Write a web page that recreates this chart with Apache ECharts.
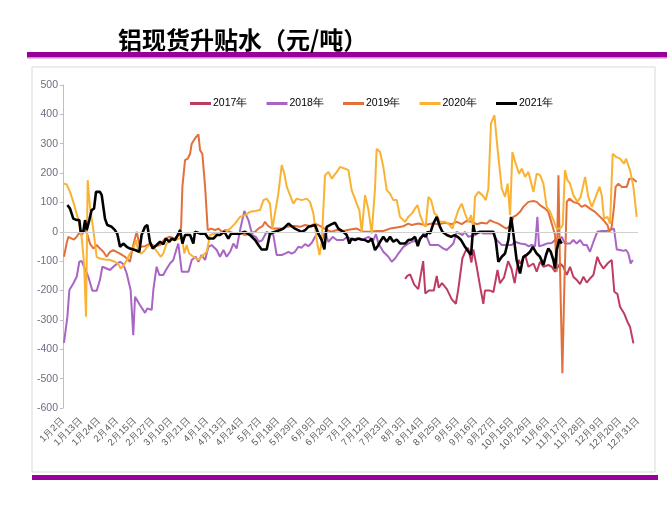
<!DOCTYPE html>
<html><head><meta charset="utf-8">
<script src="https://cdn.jsdelivr.net/npm/echarts@6/dist/echarts.min.js"></script>
<style>html,body{margin:0;padding:0;background:#fff}#c{width:667px;height:518px}</style>
</head><body><div id="c"></div>
<script>
const years = ['2017年','2018年','2019年','2020年','2021年'];
const tickLabels = ['1月2日','1月13日','1月24日','2月4日','2月15日','2月27日','3月10日','3月21日','4月1日','4月13日','4月24日','5月7日','5月18日','5月29日','6月9日','6月20日','7月1日','7月12日','7月23日','8月3日','8月14日','8月25日','9月5日','9月16日','9月27日','10月15日','10月26日','11月6日','11月17日','11月28日','12月9日','12月20日','12月31日'];
// [day index, value]
const s2017 = [[209.4,-160],[210.8,-150],[212.5,-145],[215,-180],[217.5,-195],[220.5,-100],[221.8,-210],[224,-200],[227,-200],[228.8,-150],[230,-190],[232,-175],[235,-195],[238,-230],[240.5,-245],[242,-195],[244.5,-90],[246.5,-65],[248,-55],[250,-105],[251.2,-60],[253.3,-120],[255.3,-185],[257.3,-245],[258.3,-200],[261.4,-200],[263.5,-205],[266,-130],[267.5,-175],[270,-155],[272.5,-100],[274.5,-125],[276.5,-175],[278.8,-95],[280,-108],[282.9,-79],[284.9,-119],[288,-108],[290,-136],[292,-102],[294.1,-119],[297.1,-113],[299.2,-119],[301.2,-136],[304.3,-108],[306.3,-119],[308.4,-147],[310.4,-119],[312.4,-153],[314.5,-164],[316.5,-178],[318.6,-153],[320.6,-173],[322.6,-159],[324.7,-147],[327.1,-85],[328.8,-108],[330.8,-125],[333.3,-108],[335.9,-96],[337.5,-204],[339.4,-212],[341,-255],[343.5,-278],[345.5,-306],[347.1,-323],[349.2,-380]];
const s2018 = [[0.6,-378],[2.7,-289],[3.9,-198],[6.3,-176],[8.4,-153],[10,-102],[11.4,-99],[12.9,-119],[15.5,-153],[18,-201],[20.6,-201],[22.6,-164],[24.1,-119],[26.7,-125],[28.8,-130],[30.8,-119],[32.8,-110],[34.9,-102],[36.9,-110],[39,-142],[41.4,-198],[43,-352],[44.1,-221],[47.1,-249],[50.2,-276],[51.6,-261],[54.3,-266],[55.3,-198],[57.3,-119],[59,-147],[61.4,-147],[63,-130],[65.5,-108],[67.5,-96],[69.6,-57],[70.6,-40],[72.7,-136],[76.8,-136],[78.8,-96],[81.2,-85],[82.9,-102],[84.9,-79],[87,-96],[89,-51],[91,-45],[94.1,-62],[96.1,-85],[98.2,-62],[100.2,-85],[102.3,-68],[104.3,-40],[106.3,-57],[108.4,6],[111,71],[113.5,40],[115.9,-11],[118,-17],[120,-34],[122,-28],[124.7,0],[126.7,-6],[128.8,-11],[130.8,-79],[133.9,-79],[135.9,-74],[138,-68],[140,-74],[142,-68],[144.1,-51],[146.1,-54],[148.2,-42],[150.2,-49],[152.3,-37],[154.3,-17],[156.3,0],[158.4,-34],[160.4,0],[162.5,-34],[165.1,-17],[167.6,-28],[171.6,-28],[174.1,-17],[176.7,-28],[179.8,-23],[182.9,-28],[187,-17],[190,-28],[191.6,-8],[193.1,-40],[196.1,-68],[199.2,-85],[201.2,-102],[203.3,-91],[205.3,-74],[208.4,-51],[211.4,-40],[213.5,-34],[215.5,-31],[218.6,-28],[220.6,-6],[222.7,-17],[224.7,-45],[229.8,-45],[232.9,-57],[234.9,-62],[237,-51],[239,-40],[241,0],[243,-6],[244.5,-11],[246,0],[248.2,-17],[252.2,-11],[255.3,0],[257.3,-6],[260.4,-6],[263.5,-6],[265.5,-28],[268.6,-45],[271.6,-45],[274.7,-45],[276.7,-34],[279.8,-40],[282.9,-42],[284.9,-49],[287,-45],[289,-49],[290.4,51],[291.4,-49],[294.1,-45],[296.1,-40],[299.2,-38],[301.2,-28],[303.3,-34],[305.3,-17],[307.3,-40],[310.4,-40],[312.4,-28],[314.5,-40],[316.5,-28],[318.6,-45],[320.6,-45],[322.6,-68],[325.1,-28],[327.1,0],[329.8,3],[332.8,3],[334.9,6],[337.3,11],[339,-60],[341,-62],[343,-65],[344.7,-62],[346.1,-74],[347.5,-108],[348.8,-96]];
const s2019 = [[0.6,-85],[2.2,-40],[3.3,-17],[5.3,-23],[6.7,-26],[8.4,-17],[10,-3],[11.4,-11],[13.5,6],[15,-11],[16.5,-40],[18.6,-57],[20.6,-45],[22.6,-57],[24.7,-68],[26.7,-85],[28.8,-68],[30.8,-62],[32.8,-68],[34.9,-74],[37.9,-85],[41,-102],[43,-45],[45.1,0],[47.1,-51],[50.2,-49],[53.2,-40],[56.3,-49],[59.4,-45],[62.4,-23],[65.5,-17],[68.5,-23],[71.2,-11],[72.3,17],[73.1,153],[74.7,244],[76.4,249],[77.8,266],[78.8,300],[80.8,318],[82.9,332],[83.9,278],[85.3,266],[87,153],[88.6,6],[90.6,11],[93.1,6],[95.1,11],[97.2,0],[99.2,6],[102.3,0],[105.3,-6],[108.4,-3],[111.4,-11],[114.5,-6],[117.6,0],[119.6,11],[122.1,19],[123.7,34],[125.7,19],[128.2,11],[130.8,11],[133.9,11],[137,17],[140,19],[142,20],[145.1,17],[148.2,23],[151.2,20],[154.3,28],[156.3,23],[158.4,17],[161.4,6],[164.5,0],[167.6,6],[171.6,3],[175.7,8],[179.8,11],[183.9,0],[188,0],[192,3],[196.1,3],[200.2,11],[204.3,15],[208.4,19],[211.4,28],[213.5,23],[217.6,28],[221.6,23],[225.7,28],[229.8,26],[233.9,31],[238,26],[241,34],[244.1,26],[247.1,37],[250.2,34],[253.3,26],[256.3,31],[259.4,28],[261.4,40],[263.5,34],[266.5,28],[269.6,17],[271.6,11],[274.3,23],[275.7,51],[277.7,57],[279.8,68],[281.8,85],[284.9,102],[288,105],[290,102],[292,91],[295.1,79],[297.1,68],[299.2,28],[301.2,-11],[302.2,-136],[303.3,193],[304.3,-136],[305.7,-482],[307,-164],[308.4,102],[310,113],[312.4,102],[315.5,96],[317.5,85],[319.6,91],[322.6,79],[325.7,68],[328.8,51],[330.8,40],[333.3,23],[334.5,0],[335.9,17],[337.3,85],[338.3,153],[340,164],[342,153],[345.1,153],[346.7,181],[348.8,181],[351.2,170]];
const s2020 = [[0.6,164],[2.2,162],[4.3,136],[6.3,102],[7.3,96],[9.4,40],[11.4,-17],[12.9,-108],[14.1,-289],[15.1,176],[16.5,85],[18.6,6],[20.6,-85],[22.6,-91],[25.7,-94],[28.8,-96],[31.8,-102],[33.9,-110],[35.3,-125],[37.3,-113],[39,-96],[41,-74],[43,-57],[44.7,-28],[46.1,-68],[48.1,-74],[50.2,-62],[51.6,-51],[53.2,-45],[55.3,-51],[57.7,-68],[59.8,-85],[61.4,-74],[63.4,-40],[66.5,-28],[68.5,-28],[71.2,-23],[72.7,-17],[74.3,-74],[75.7,-45],[77.2,-74],[79.8,-85],[82.9,-96],[84.9,-85],[88,-68],[90,-11],[93.1,-6],[96.1,-11],[99.2,0],[102.3,11],[105.3,28],[108.4,51],[111.4,57],[114.5,68],[117.6,71],[120.6,74],[122.7,108],[124.7,113],[126.7,96],[128.2,11],[129.4,6],[131.8,130],[133.9,227],[135.5,198],[137,153],[139,125],[141,96],[143.1,113],[146.1,108],[149.2,113],[151.2,102],[153.3,62],[155.3,-28],[157,-79],[158.4,-34],[160.4,193],[162.5,204],[164.5,181],[167.6,204],[169.6,221],[172.7,215],[174.7,210],[176.7,142],[179.8,96],[181.4,74],[182.9,0],[184.9,125],[187,74],[189,-6],[191,147],[192,283],[194.1,272],[196.1,221],[198.2,142],[200.2,130],[202.2,108],[204.3,108],[206.3,51],[209.4,34],[211.4,51],[213.5,62],[215.5,79],[217,91],[218.6,57],[220.6,28],[222,17],[223.7,119],[225.3,108],[227.4,62],[228.8,57],[230.8,34],[233.9,34],[235.9,28],[238.4,11],[240,40],[242,74],[244.1,96],[246.1,62],[248.2,34],[249.8,57],[251.2,11],[252.2,119],[254.3,136],[256.7,125],[258.8,108],[260.4,147],[262,369],[264.1,397],[266.1,278],[268.6,147],[270.6,119],[272.2,164],[273.7,57],[275.1,272],[277.1,232],[279.2,198],[280.8,215],[282.9,187],[284.9,204],[288,136],[290,198],[292,193],[294.1,164],[296.1,85],[298.2,68],[300.2,40],[302.2,11],[304.3,11],[305.9,23],[307.3,210],[308.8,176],[310.4,164],[312.4,125],[314.9,102],[316.9,119],[319.6,187],[321.6,119],[323.7,85],[325.7,113],[328.4,153],[329.8,125],[331.2,45],[333.3,51],[334.9,28],[336.5,266],[338.6,255],[341,249],[343.5,232],[344.7,249],[347.1,210],[349.2,153],[351.2,51]];
const s2021 = [[2.7,91],[4.3,79],[5.3,85],[6.3,45],[8.4,40],[10,40],[10.8,0],[12.4,0],[13.5,40],[14.5,6],[16.1,40],[17.5,74],[19,79],[20.2,136],[22.6,136],[23.7,125],[25.7,45],[27.1,23],[29.8,17],[31.8,6],[33.3,-8],[34.9,-51],[36.9,-40],[39,-51],[41,-57],[44.1,-62],[46.7,-68],[48.1,-11],[50.2,17],[51.6,23],[53.2,-34],[54.9,-57],[57.3,-45],[59.4,-34],[61.4,-42],[63,-23],[65.1,-34],[66.5,-23],[68.5,-28],[70.2,-11],[71.7,6],[73.1,-40],[74.7,-11],[77.8,-11],[79.8,-40],[80.8,0],[83.9,-6],[87,-6],[89,-23],[92.1,-23],[94.1,-11],[96.1,-11],[98.8,0],[101.2,-23],[102.9,-6],[105.3,-6],[108.4,-6],[111.4,0],[114.5,-11],[117.6,-28],[119.6,-45],[121.6,-60],[124.7,-60],[126.7,-6],[129.8,0],[132.9,6],[134.9,11],[138,28],[140,19],[142,11],[143.1,6],[146.1,0],[148.2,6],[150.2,17],[152.3,20],[154.3,23],[156.3,-6],[158.4,-28],[160,-60],[161.4,17],[164.5,26],[166.5,31],[168.6,11],[171.6,0],[173.7,-11],[175.3,-40],[176.7,-23],[178.8,-28],[180.8,-23],[182.9,-26],[184.9,-28],[187,-34],[189,-23],[191,-62],[192.4,-51],[194.1,-34],[196.1,-17],[198.2,-34],[200.2,-17],[202.2,-34],[204.3,-26],[206.3,-40],[209.4,-40],[211.4,-28],[213.5,-26],[215.5,-17],[217.2,-49],[218.6,-23],[220.6,-11],[222,-17],[223.3,0],[224.7,-6],[226.7,28],[228.8,51],[230.8,17],[232.2,0],[234.9,-11],[237.6,-17],[239.6,-11],[241.6,-17],[243.7,-28],[246.1,-51],[248.2,-68],[249.8,-79],[251.2,23],[252.2,-6],[255.3,0],[258.4,0],[261.4,0],[263.5,0],[264.9,-28],[266.5,-102],[268.6,-85],[270.6,-74],[272.6,-28],[274.3,51],[275.7,-6],[277.7,-96],[279.8,-142],[281.8,-85],[283.8,-79],[285.9,-68],[287.6,-51],[290,-74],[292,-85],[294.1,-113],[295.7,-79],[297.1,-57],[298.6,-68],[300.2,-96],[301.2,-125],[302.2,-62],[303.9,-26],[305.3,-40]];
const seriesData = [s2017, s2018, s2019, s2020, s2021];
const colors = ['#be3b62','#a865c4','#e2703a','#f9b233','#000000'];
const widths = [2,2,2,2,2.6];

const narrow = "'Liberation Sans Narrow','Arial Narrow','Liberation Sans',sans-serif";
const chart = echarts.init(document.getElementById('c'), null, {renderer:'canvas'});
const series = [{
  type:'line', name:'zero', data:[], silent:true,
  markLine:{silent:true, symbol:'none', label:{show:false}, lineStyle:{color:'#d0d0d0', width:1, type:'solid'}, data:[{yAxis:0}], animation:false}
}];
years.forEach((y,i)=>{
  series.push({type:'line', name:y, data:seriesData[i], showSymbol:false, symbol:'none',
    lineStyle:{color:colors[i], width:widths[i]}, itemStyle:{color:colors[i]}, animation:false});
});
chart.setOption({
  animation:false,
  title:{text:'铝现货升贴水（元/吨）', left:113, top:23,
    textStyle:{fontFamily:"'Noto Sans CJK SC',sans-serif", fontSize:24, fontWeight:'bold', color:'#000'}},
  legend: years.map((y,i)=>({data:[y], left:185+76.5*i, top:93, icon:'rect', itemWidth:21, itemHeight:3, itemGap:0,
    textStyle:{fontFamily:narrow, fontSize:10.5, color:'#000', padding:[0,0,0,-3]}})),
  grid:{left:63, right:29, top:85, bottom:110},
  xAxis:{type:'value', min:0, max:352, interval:11,
    axisLine:{show:false}, axisTick:{show:false}, splitLine:{show:false},
    axisLabel:{rotate:45, margin:11, fontSize:9.5, color:'#595959', fontFamily:narrow,
      formatter:(v)=>tickLabels[Math.round(v/11)] || ''}},
  yAxis:{type:'value', min:-600, max:500, interval:100,
    axisLine:{show:true, lineStyle:{color:'#bfbfbf'}}, axisTick:{show:true, length:3, lineStyle:{color:'#bfbfbf'}},
    splitLine:{show:false},
    axisLabel:{fontSize:10.5, color:'#6b6f80', fontFamily:narrow, margin:5}},
  graphic:[
    {type:'rect', shape:{x:32, y:67, width:623, height:405}, style:{fill:'none', stroke:'#d9d9d9', lineWidth:1}, z:-1},
    {type:'rect', shape:{x:27, y:52, width:640, height:5}, style:{fill:'#990099'}},
    {type:'rect', shape:{x:27, y:57, width:640, height:1.5}, style:{fill:'#c98ac9'}},
    {type:'rect', shape:{x:32, y:475, width:626, height:5}, style:{fill:'#990099'}}
  ],
  series
});
</script></body></html>
